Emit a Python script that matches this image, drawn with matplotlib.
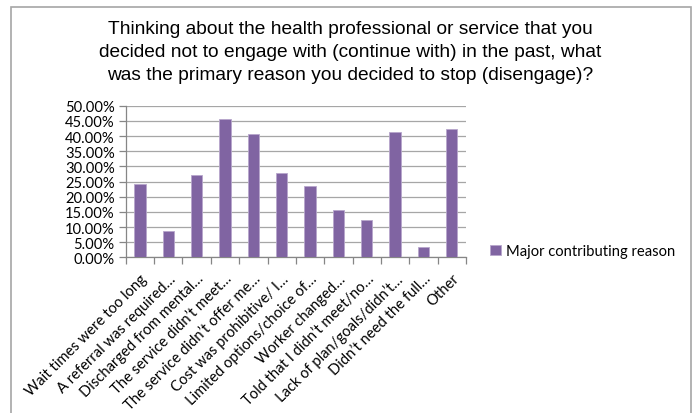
import matplotlib

matplotlib.use("Agg")
import matplotlib.pyplot as plt
from matplotlib.patches import Rectangle
from matplotlib.ticker import FixedLocator, FuncFormatter

# share of respondents naming each item as a major contributing reason (%)
reasons = [
    "Wait times were too long",
    "A referral was required\u2026",
    "Discharged from mental\u2026",
    "The service didn\u2019t meet\u2026",
    "The service didn\u2019t offer me\u2026",
    "Cost was prohibitive/ I\u2026",
    "Limited options/choice of\u2026",
    "Worker changed\u2026",
    "Told that I didn\u2019t meet/no\u2026",
    "Lack of plan/goals/didn\u2019t\u2026",
    "Didn\u2019t need the full\u2026",
    "Other",
]
major = [24.2, 8.7, 27.1, 45.8, 40.7, 27.9, 23.4, 15.5, 12.4, 41.4, 3.5, 42.2]
series_name = "Major contributing reason"
title = ("Thinking about the health professional or service that you\n"
         "decided not to engage with (continue with) in the past, what\n"
         "was the primary reason you decided to stop (disengage)?")

PURPLE = "#8064A2"
GRID = "#A6A6A6"
AXIS = "#868686"
LABEL_FONT = ["Lato", "DejaVu Sans"]
LABEL_SIZE = 10.6

fig = plt.figure(figsize=(6.95, 4.14), dpi=100)

# chart-area frame (open at the bottom edge)
fig.patches.append(Rectangle((10.5 / 695, -0.05), 680 / 695, 1.05 - 7.5 / 414,
                             transform=fig.transFigure, fill=False,
                             edgecolor=GRID, lw=1.2))

fig.text(350 / 695, 1 - 21 / 414, title, ha="center", va="top",
         fontsize=13.8, family="Liberation Sans", linespacing=1.48)

ax = fig.add_axes([0.181, 0.376, 0.4895, 0.366])
x = list(range(len(major)))
ax.bar(x, major, width=0.4, color=PURPLE, edgecolor="#B7A6CC", lw=0.6,
       zorder=3, label=series_name)

ax.set_xlim(-0.5, len(major) - 0.5)
ax.set_ylim(0, 50)
ax.set_yticks([i * 5 for i in range(11)])
ax.yaxis.set_major_formatter(FuncFormatter(lambda v, _: f"{v:.2f}%"))
ax.grid(axis="y", color=GRID, lw=0.9, zorder=0)

# category boundaries carry the tick marks, labels sit under each bar
ax.xaxis.set_major_locator(FixedLocator([i - 0.5 for i in range(len(major) + 1)]))
ax.xaxis.set_major_formatter(FuncFormatter(lambda v, _: ""))
ax.set_xticks(x, minor=True)
ax.set_xticklabels(reasons, minor=True, rotation=45, ha="right",
                   rotation_mode="anchor", fontsize=LABEL_SIZE, family=LABEL_FONT)
ax.tick_params(axis="x", which="minor", length=0, pad=10)
ax.tick_params(axis="x", which="major", length=5, color=AXIS, width=0.9)
ax.tick_params(axis="y", length=5, color=AXIS, width=0.9, labelsize=LABEL_SIZE,
               pad=3)
for lab in ax.get_yticklabels():
    lab.set_family(LABEL_FONT)

for side in ("top", "right"):
    ax.spines[side].set_visible(False)
for side in ("left", "bottom"):
    ax.spines[side].set_color(AXIS)
    ax.spines[side].set_linewidth(0.9)

fig.legend(loc="center left", bbox_to_anchor=(477 / 695, 1 - 252 / 414),
           frameon=False, handlelength=0.7, handleheight=0.7,
           handletextpad=0.4, prop={"family": LABEL_FONT, "size": LABEL_SIZE})

fig.savefig("out.png", dpi=100)
